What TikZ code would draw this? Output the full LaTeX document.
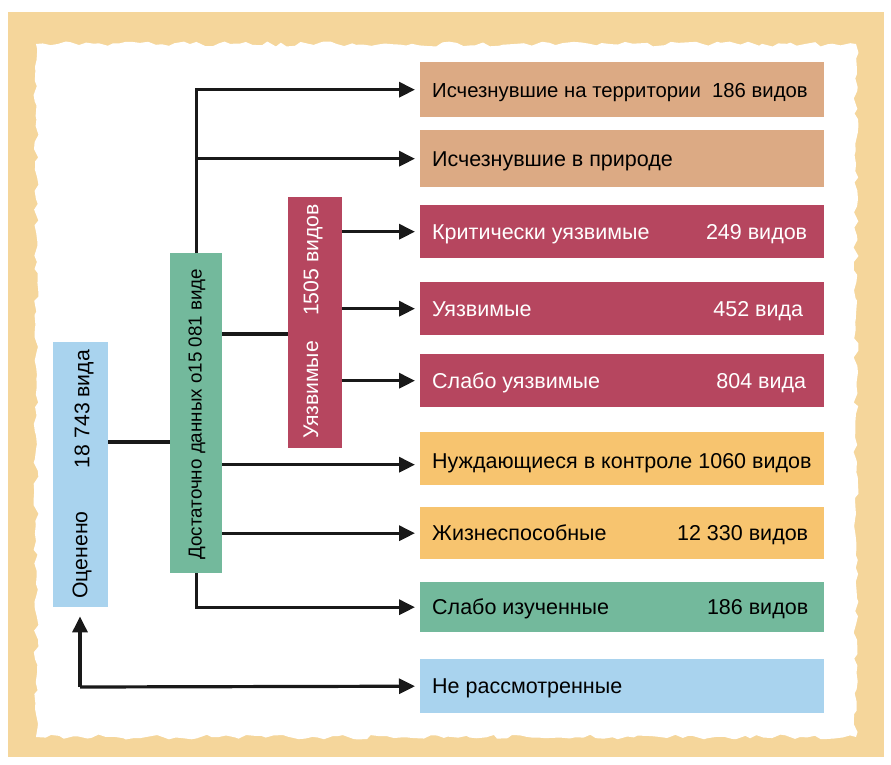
\documentclass[tikz,border=0pt]{standalone}
\usepackage{fontspec}
\setmainfont{Liberation Sans}
\usetikzlibrary{arrows.meta,decorations.pathmorphing}
\definecolor{framec}{HTML}{F5D69B}
\definecolor{tanc}{HTML}{DCAA84}
\definecolor{redc}{HTML}{B6465F}
\definecolor{orc}{HTML}{F7C46F}
\definecolor{grc}{HTML}{73B99C}
\definecolor{bluc}{HTML}{A9D3EE}
\begin{document}
\begin{tikzpicture}[x=1pt,y=-1pt,
  hbox/.style={anchor=north west,minimum width=404pt,inner sep=0pt},
  vbox/.style={anchor=north west,inner sep=0pt},
  lbl/.style={anchor=base west,yshift=-7.5pt,font=\fontsize{21.5}{24}\selectfont,inner sep=0pt},
  num/.style={anchor=base east,yshift=-7.5pt,font=\fontsize{21.5}{24}\selectfont,inner sep=0pt},
  vlbl/.style={rotate=90,font=\fontsize{21.2}{24}\selectfont,inner sep=0pt},
  conn/.style={line width=3.2pt,draw=black!90},
  arr/.style={conn,-{Triangle[length=16pt,width=15pt]},shorten >=5pt}]
\useasboundingbox (0,0) rectangle (891,765);
\fill[white] (0,0) rectangle (891,765);
\fill[framec] (8,12) rectangle (884,757);
\pgfmathsetseed{7}
\fill[white,decorate,decoration={random steps,segment length=7pt,amplitude=2.5pt}] (36,44) -- (856,44) -- (856,737) -- (36,737) -- cycle;

% right boxes
\node[hbox,fill=tanc,minimum height=55pt] (b1) at (420,62) {};
\node[hbox,fill=tanc,minimum height=57pt] (b2) at (420,130) {};
\node[hbox,fill=redc,minimum height=53pt] (b3) at (420,205) {};
\node[hbox,fill=redc,minimum height=53pt] (b4) at (420,282) {};
\node[hbox,fill=redc,minimum height=53pt] (b5) at (420,354) {};
\node[hbox,fill=orc,minimum height=53pt] (b6) at (420,432) {};
\node[hbox,fill=orc,minimum height=52pt] (b7) at (420,507) {};
\node[hbox,fill=grc,minimum height=50pt] (b8) at (420,582) {};
\node[hbox,fill=bluc,minimum height=54pt] (b9) at (420,659) {};

\node[lbl,font=\fontsize{20.3}{24}\selectfont] (t1) at ([xshift=12pt]b1.west) {Исчезнувшие на территории\ \ 186 видов};
\node[lbl] (t2) at ([xshift=12pt]b2.west) {Исчезнувшие в природе};
\node[lbl,white] (t3) at ([xshift=12pt]b3.west) {Критически уязвимые};
\node[num,white] (n3) at ([xshift=-17pt]b3.east) {249 видов};
\node[lbl,white] (t4) at ([xshift=12pt]b4.west) {Уязвимые};
\node[num,white] (n4) at ([xshift=-21pt]b4.east) {452 вида};
\node[lbl,white] (t5) at ([xshift=12pt]b5.west) {Слабо уязвимые};
\node[num,white] (n5) at ([xshift=-18pt]b5.east) {804 вида};
\node[lbl] (t6) at ([xshift=12pt,yshift=-2pt]b6.west) {Нуждающиеся в контроле 1060 видов};
\node[lbl] (t7) at ([xshift=12pt]b7.west) {Жизнеспособные};
\node[num] (n7) at ([xshift=-16pt]b7.east) {12 330 видов};
\node[lbl] (t8) at ([xshift=12pt]b8.west) {Слабо изученные};
\node[num] (n8) at ([xshift=-16pt]b8.east) {186 видов};
\node[lbl] (t9) at ([xshift=12pt]b9.west) {Не рассмотренные};

% vertical boxes
\node[vbox,fill=bluc,minimum width=55pt,minimum height=265pt] (oc) at (53,342) {};
\node[vlbl] (oc1) at (82,555) {Оценено};
\node[vlbl] (oc2) at (84,409) {18 743 вида};
\node[vbox,fill=grc,minimum width=52pt,minimum height=320pt] (dd) at (170,253) {};
\node[vlbl,font=\fontsize{18.8}{22}\selectfont] (dd1) at (197,414) {Достаточно данных о15 081 виде};
\node[vbox,fill=redc,minimum width=54pt,minimum height=251pt] (uz) at (288,197) {};
\node[vlbl,white] (uz1) at (311,390) {Уязвимые};
\node[vlbl,white] (uz2) at (313,260) {1505 видов};

% connectors
\coordinate (j1) at (108,442);
\coordinate (j2) at (222,334);
\coordinate (j3) at (80,687);
\coordinate (j6) at ([yshift=-6pt]b6.west);
\draw[conn] (oc.east |- j1) -- (dd.west |- j1);
\draw[conn] (dd.east |- j2) -- (uz.west |- j2);
\draw[arr] (dd.north) |- (b1.west);
\draw[arr] (dd.north) |- (b2.west);
\draw[arr] (uz.east |- b3.west) -- (b3.west);
\draw[arr] (uz.east |- b4.west) -- (b4.west);
\draw[arr] (uz.east |- b5.west) -- (b5.west);
\draw[arr] (dd.east |- j6) -- (j6);
\draw[arr] (dd.east |- b7.west) -- (b7.west);
\draw[arr] (dd.south) |- (b8.west);
\draw[arr] (j3) -- (b9.west);
\draw[arr,shorten >=9pt] (j3) -- (j3 |- oc.south);
\end{tikzpicture}
\end{document}
